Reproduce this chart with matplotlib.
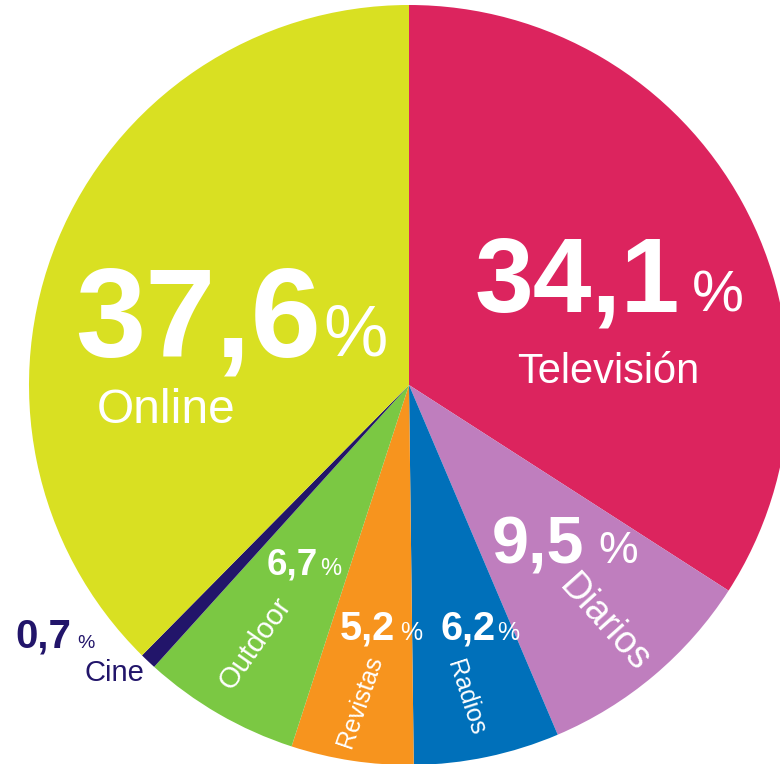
import matplotlib
matplotlib.use("Agg")
import matplotlib.pyplot as plt

plt.rcParams['font.family'] = ['Liberation Sans', 'DejaVu Sans']

# data, clockwise from 12 o'clock
medios = ['Televisión', 'Diarios', 'Radios', 'Revistas', 'Outdoor', 'Cine', 'Online']
share = [34.1, 9.5, 6.2, 5.2, 6.7, 0.7, 37.6]
colores = ['#DC245E', '#BF7EBE', '#0070BA', '#F7941E', '#7BC843', '#22156A', '#D9E022']
numeros = ['34,1', '9,5', '6,2', '5,2', '6,7', '0,7', '37,6']

W, H = 780, 764
fig = plt.figure(figsize=(W / 100, H / 100), dpi=100)
ax = fig.add_axes([0, 0, 1, 1])

ax.pie(share, colors=colores, startangle=-90, counterclock=True,
       center=(409, 385), radius=380, wedgeprops=dict(linewidth=0))
ax.set_xlim(0, W)
ax.set_ylim(H, 0)
ax.set_aspect('auto')
ax.axis('off')

blanco = 'white'
navy = '#22156A'

# number labels: (x, baseline, size, pct_x, pct_size, color)
num_pos = {
    'Televisión': (475, 312, 76, 692, 42, blanco),
    'Diarios': (492, 563, 48, 598, 32, blanco),
    'Radios': (440, 640, 28.5, 497, 18, blanco),
    'Revistas': (340, 640, 28.5, 400, 18, blanco),
    'Outdoor': (267, 575, 26.5, 320, 17, blanco),
    'Cine': (15, 648, 29, 77, 14, navy),
    'Online': (75, 356, 91, 323, 52, blanco),
}
for m, n in zip(medios, numeros):
    x, y, s, px, ps, c = num_pos[m]
    ax.text(x, y, n, fontsize=s, fontweight='bold', color=c, va='baseline', ha='left')
    ax.text(px, y, '%', fontsize=ps, color=c, va='baseline', ha='left')

# name labels: (x, y, size, rotation, ha, va, color)
name_pos = {
    'Televisión': (517, 383, 30, 0, 'left', 'baseline', blanco),
    'Diarios': (604, 624, 27, -48, 'center', 'center', blanco),
    'Radios': (466, 698, 18, -72, 'center', 'center', blanco),
    'Revistas': (360, 702, 18, 71, 'center', 'center', blanco),
    'Outdoor': (255, 643, 21, 55, 'center', 'center', blanco),
    'Cine': (85, 681, 21, 0, 'left', 'baseline', navy),
    'Online': (97, 423, 34.5, 0, 'left', 'baseline', blanco),
}
for m in medios:
    x, y, s, r, ha, va, c = name_pos[m]
    ax.text(x, y, m, fontsize=s, rotation=r, rotation_mode='anchor',
            ha=ha, va=va, color=c)

fig.savefig('out.png', dpi=100)
